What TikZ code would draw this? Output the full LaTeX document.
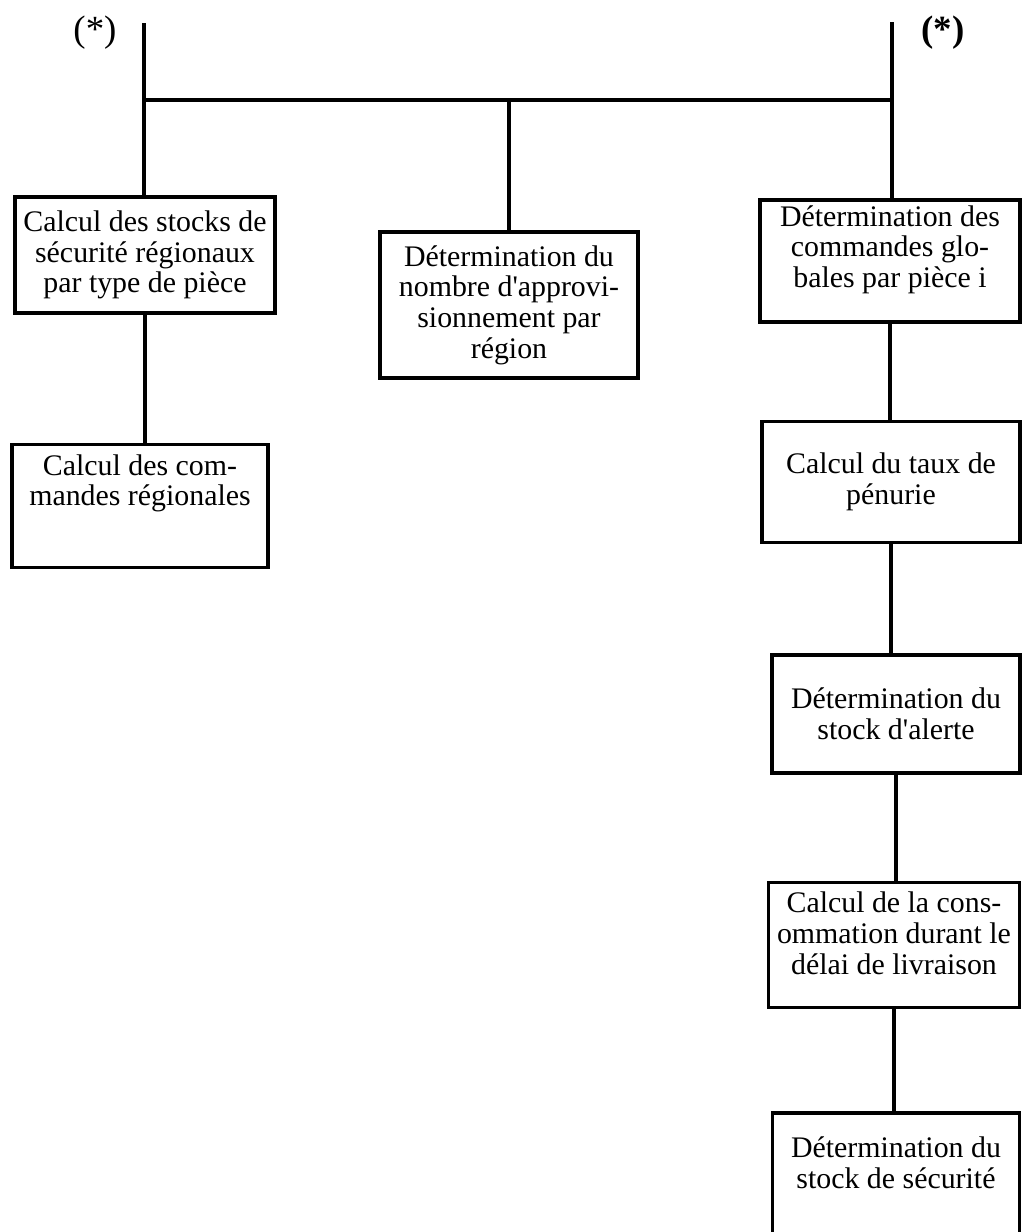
\documentclass[tikz,border=0pt]{standalone}
\usepackage{fontspec}
\newfontfamily\boxfont{Liberation Serif}

\begin{document}
\begin{tikzpicture}[x=0.02cm, y=-0.02cm, line width=1.8pt,
  box/.style={draw, rectangle, align=center, inner sep=2pt,
    font=\boxfont\fontsize{17}{17.5}\selectfont},
  star/.style={font=\boxfont\fontsize{21}{24}\selectfont}]
\clip (0,0) rectangle (1022,1232);
\node[star] (lstar) at (95,33) {(*)};
\node[star] (rstar) at (943,33) {\bfseries(*)};
\coordinate (ltop) at (144,23);
\coordinate (rtop) at (892,22);
\coordinate (bar) at (0,100);
% left branch
\node[box, minimum width=5.2cm, minimum height=2.32cm] (lsec) at (145,255)
  {Calcul des stocks de\\sécurité régionaux\\par type de pièce};
\node[box, minimum width=5.12cm, minimum height=2.46cm] (lcmd) at (140,506)
  {Calcul des com-\\mandes régionales\\[12pt]\mbox{}};
% middle
\node[box, minimum width=5.16cm, minimum height=2.92cm] (mapp) at (509,305)
  {Détermination du\\nombre d'approvi-\\sionnement par\\région};
% right branch
\node[box, minimum width=5.2cm, minimum height=2.44cm] (rglob) at (890,261)
  {Détermination des\\commandes glo-\\bales par pièce i\\[-1pt]\mbox{}};
\node[box, minimum width=5.16cm, minimum height=2.42cm] (rpen) at (891,482)
  {Calcul du taux de\\pénurie};
\node[box, minimum width=4.96cm, minimum height=2.36cm] (ralert) at (896,714)
  {Détermination du\\stock d'alerte};
\node[box, minimum width=5.02cm, minimum height=2.5cm] (rcons) at (894,945)
  {Calcul de la cons-\\ommation durant le\\délai de livraison\\[-4pt]\mbox{}};
\node[box, minimum width=4.94cm, minimum height=2.8cm] (rsec) at (896,1183)
  {Détermination du\\stock de sécurité\\[6pt]\mbox{}};
% connectors
\draw (ltop) -- (ltop |- lsec.north);
\draw (ltop |- bar) -- (rtop |- bar);
\draw (mapp.north) -- (mapp.north |- bar);
\draw (rtop) -- (rtop |- rglob.north);
\draw (lsec.south) -- (lsec.south |- lcmd.north);
\foreach \a/\b in {rglob/rpen, rpen/ralert, ralert/rcons, rcons/rsec}
  \draw (\a.south) -- (\a.south |- \b.north);
\end{tikzpicture}
\end{document}
